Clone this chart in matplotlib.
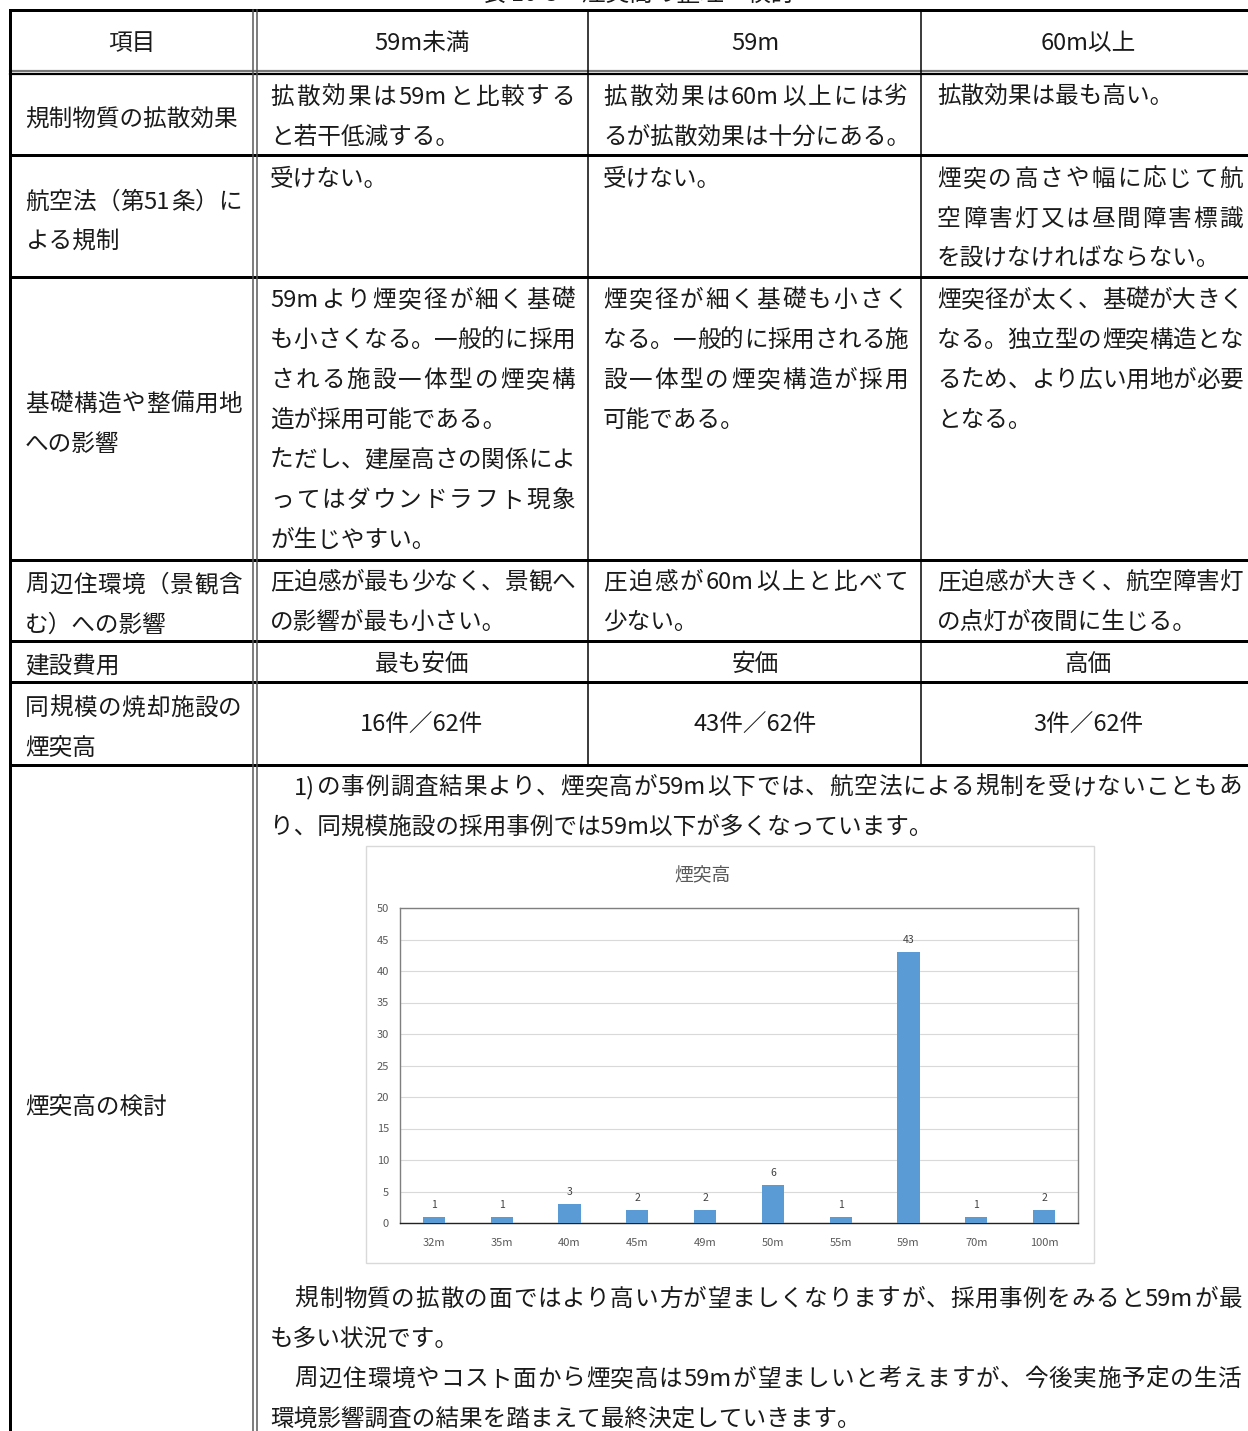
import unicodedata
import numpy as np
import matplotlib
matplotlib.use("Agg")
import matplotlib.pyplot as plt
from matplotlib.font_manager import FontProperties
from matplotlib.patches import Rectangle

W, H = 1248, 1431
FONT = ['Noto Sans CJK JP', 'DejaVu Sans']
plt.rcParams['font.family'] = FONT

# chart data
heights = ['32m', '35m', '40m', '45m', '49m', '50m', '55m', '59m', '70m', '100m']
counts = [1, 1, 3, 2, 2, 6, 1, 43, 1, 2]

# table text
title = '表 10-3　煙突高の整理・検討'
header = ['項目', '59m未満', '59m', '60m以上']
items = [
    ['規制物質の拡散効果'],
    ['航空法（第51条）に', 'よる規制'],
    ['基礎構造や整備用地', 'への影響'],
    ['周辺住環境（景観含', 'む）への影響'],
    ['建設費用'],
    ['同規模の焼却施設の', '煙突高'],
    ['煙突高の検討'],
]
cells = [
    [['拡散効果は59mと比較する', 'と若干低減する。'],
     ['拡散効果は60m以上には劣', 'るが拡散効果は十分にある。'],
     ['拡散効果は最も高い。']],
    [['受けない。'],
     ['受けない。'],
     ['煙突の高さや幅に応じて航', '空障害灯又は昼間障害標識', 'を設けなければならない。']],
    [['59mより煙突径が細く基礎', 'も小さくなる。一般的に採用', 'される施設一体型の煙突構',
      '造が採用可能である。', 'ただし、建屋高さの関係によ', 'ってはダウンドラフト現象', 'が生じやすい。'],
     ['煙突径が細く基礎も小さく', 'なる。一般的に採用される施', '設一体型の煙突構造が採用', '可能である。'],
     ['煙突径が太く、基礎が大きく', 'なる。独立型の煙突構造とな', 'るため、より広い用地が必要', 'となる。']],
    [['圧迫感が最も少なく、景観へ', 'の影響が最も小さい。'],
     ['圧迫感が60m以上と比べて', '少ない。'],
     ['圧迫感が大きく、航空障害灯', 'の点灯が夜間に生じる。']],
]
costs = ['最も安価', '安価', '高価']
cases = ['16件／62件', '43件／62件', '3件／62件']
notes_top = ['　1)の事例調査結果より、煙突高が59m以下では、航空法による規制を受けないこともあ',
             'り、同規模施設の採用事例では59m以下が多くなっています。']
notes_bottom = ['　規制物質の拡散の面ではより高い方が望ましくなりますが、採用事例をみると59mが最',
                'も多い状況です。',
                '　周辺住環境やコスト面から煙突高は59mが望ましいと考えますが、今後実施予定の生活',
                '環境影響調査の結果を踏まえて最終決定していきます。']

# layout (pixels)
row_lines = [155, 277, 560, 641, 682, 765]
col_x = [(25, 242), (270, 575), (603, 908), (937, 1243)]
col_mid = [132, 422, 755, 1088]
item_y = [118, 200, 402, 583, 664, 706, 1105]
cell_y = [95, 177, 298, 580]
FS = 17
EM = FS * 100 / 72
PITCH = 40
INK = '#1a1a1a'

fig = plt.figure(figsize=(W / 100, H / 100), dpi=100)
ax = fig.add_axes([0, 0, 1, 1])
ax.set_xlim(0, W)
ax.set_ylim(H, 0)
ax.axis('off')
renderer = fig.canvas.get_renderer()
prop = FontProperties(family=FONT, size=FS)


def tokenize(s):
    out = []
    for c in s:
        wide = unicodedata.east_asian_width(c) in ('W', 'F')
        if wide or not out or out[-1][1]:
            out.append([c, wide])
        else:
            out[-1][0] += c
    return out


def put_line(s, x0, x1, yc, justify):
    yb = yc + 9
    if not justify:
        ax.text(x0, yb, s, ha='left', va='baseline', fontsize=FS, color=INK)
        return
    toks = tokenize(s)
    widths = []
    for t, wide in toks:
        if wide:
            widths.append(EM)
        else:
            w, _, _ = renderer.get_text_width_height_descent(t, prop, ismath=False)
            widths.append(w + 1)
    gap = (x1 - x0 - sum(widths)) / max(len(toks) - 1, 1)
    x = x0
    for (t, _), w in zip(toks, widths):
        ax.text(x, yb, t, ha='left', va='baseline', fontsize=FS, color=INK)
        x += w + gap


def put_block(lines, x0, x1, y0):
    for i, s in enumerate(lines):
        last = i == len(lines) - 1 or s.endswith('。')
        put_line(s, x0, x1, y0 + i * PITCH, not last)


# title (cut off at the top edge, as in the scan)
ax.text(638, 1, title, ha='center', va='baseline', fontsize=FS, color=INK)

# grid lines
lw3, lw2, lw1 = 3 * 0.72, 2.2 * 0.72, 1.5 * 0.72
ax.plot([10, W], [10, 10], color='black', lw=lw3)
ax.plot([10, W], [71, 71], color='#777777', lw=lw2)
ax.plot([10, W], [74, 74], color='black', lw=lw2)
for y in row_lines:
    ax.plot([10, W], [y, y], color='black', lw=lw3)
ax.plot([10, 10], [10, H], color='black', lw=lw3)
ax.plot([253, 253], [10, H], color='#555555', lw=lw1)
ax.plot([256.5, 256.5], [10, H], color='#555555', lw=lw1)
for x in (588, 921):
    ax.plot([x, x], [10, row_lines[-1]], color='black', lw=lw1)

# header
for x, s in zip(col_mid, header):
    ax.text(x, 41 + 9, s, ha='center', va='baseline', fontsize=FS, color=INK)

# first column
for lines, y in zip(items, item_y):
    put_block(lines, col_x[0][0], col_x[0][1], y)

# body cells
for row, y in zip(cells, cell_y):
    for c, lines in enumerate(row):
        put_block(lines, col_x[c + 1][0], col_x[c + 1][1], y)
for c in range(3):
    ax.text(col_mid[c + 1], 662 + 9, costs[c], ha='center', va='baseline', fontsize=FS, color=INK)
    ax.text(col_mid[c + 1], 723 + 9, cases[c], ha='center', va='baseline', fontsize=FS, color=INK)

# merged cell text
put_block(notes_top, 270, 1242, 785)
put_block(notes_bottom, 270, 1242, 1297)

# embedded chart
ax.add_patch(Rectangle((366, 846), 728, 417, facecolor='white', edgecolor='#D9D9D9', lw=1))
ax.text(702, 876, '煙突高', ha='center', va='center', fontsize=13.5, color='#595959')

cax = fig.add_axes([400 / W, 1 - 1223 / H, 678 / W, 315 / H])
xpos = np.arange(len(heights))
bars = cax.bar(xpos, counts, width=0.33, color='#5B9BD5', zorder=3)
cax.set_xlim(-0.5, len(heights) - 0.5)
cax.set_ylim(0, 50)
cax.set_yticks(np.arange(0, 51, 5))
cax.set_xticks(xpos, heights)
cax.grid(axis='y', color='#D9D9D9', lw=0.8, zorder=0)
cax.tick_params(axis='both', length=0, labelsize=8, labelcolor='#595959')
cax.tick_params(axis='x', pad=11)
cax.tick_params(axis='y', pad=8)
cax.bar_label(bars, padding=5, fontsize=7.5, color='#404040')
for sp in cax.spines.values():
    sp.set_color('#7F7F7F')
    sp.set_linewidth(1)
cax.spines['bottom'].set_color('#222222')

fig.savefig('out.png', dpi=100)
